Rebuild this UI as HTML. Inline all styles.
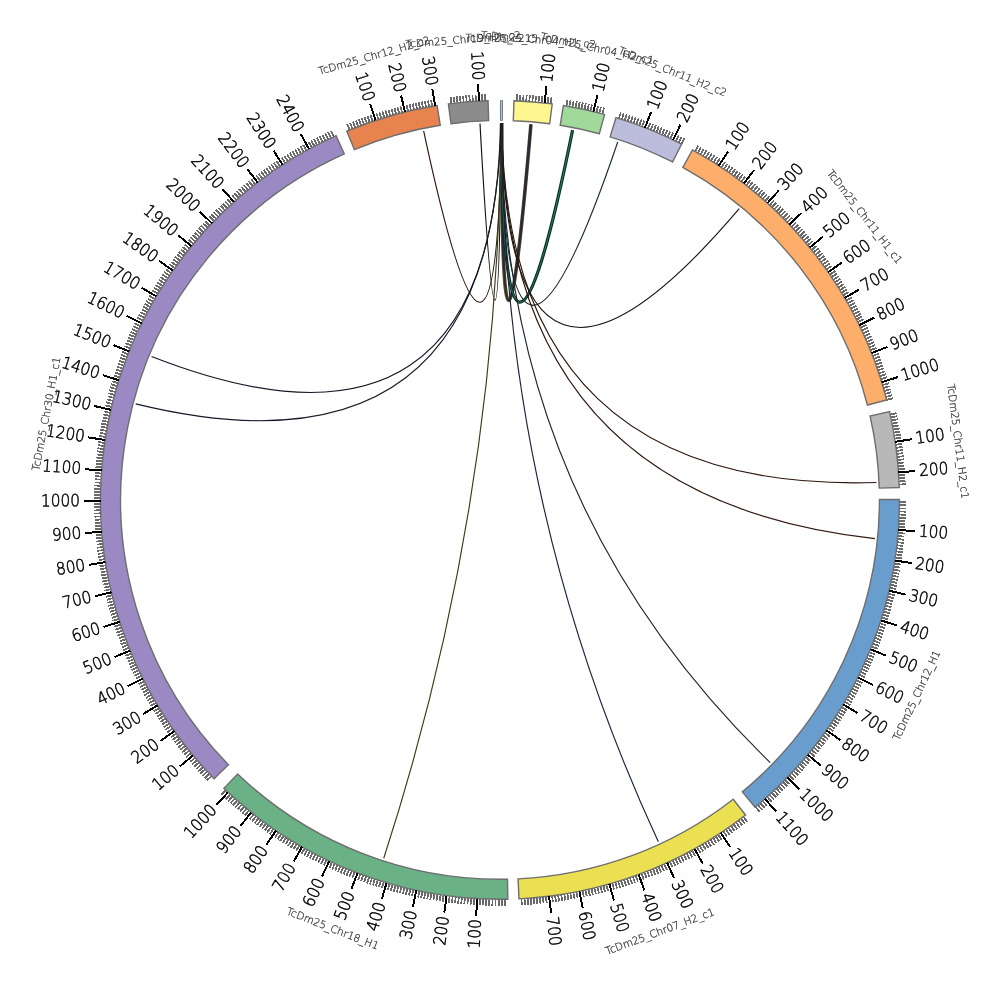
<!DOCTYPE html>
<html><head><meta charset="utf-8"><title>Circos plot</title>
<style>html,body{margin:0;padding:0;background:#fff;}svg{display:block;}.t{will-change:transform;}text{font-family:"DejaVu Sans","Liberation Sans",sans-serif;}</style></head><body>
<svg class="t" width="1000" height="1000" viewBox="0 0 1000 1000">
<rect width="1000" height="1000" fill="#fff"/>
<g fill="none" stroke-linecap="butt">
<path d="M423.64,130.93 Q497.8,477.53 501.37,123.1" stroke="#2e1409" stroke-width="1.15"/>
<path d="M480,123.63 Q499.47,477.31 500.84,123.1" stroke="#111111" stroke-width="1.15"/>
<path d="M530.92,124.37 Q501.03,477.33 501.76,123.1" stroke="#5a5418" stroke-width="3.6"/>
<path d="M530.92,124.37 Q501.03,477.33 501.76,123.1" stroke="#2d2642" stroke-width="2.4"/>
<path d="M572.59,130.15 Q502.27,477.5 501.5,123.1" stroke="#0e2a26" stroke-width="3.2"/>
<path d="M572.59,130.15 Q502.27,477.5 501.5,123.1" stroke="#1f7a4f" stroke-width="1.2"/>
<path d="M617.74,141.95 Q503.62,477.86 501.23,123.1" stroke="#16301f" stroke-width="1.15"/>
<path d="M739.22,208.73 Q506.06,483.2 501.37,123.1" stroke="#161616" stroke-width="1.15"/>
<path d="M876.45,482.48 Q505.72,493.99 501.69,123.1" stroke="#2a140c" stroke-width="1.15"/>
<path d="M874.86,538.57 Q502.87,497.36 501.89,123.1" stroke="#2e160c" stroke-width="1.15"/>
<path d="M770.18,762.59 Q500.05,499.9 501.5,123.1" stroke="#1f2530" stroke-width="1.15"/>
<path d="M658.34,841.84 Q500.05,499.9 502.02,123.11" stroke="#18243e" stroke-width="1.15"/>
<path d="M383.74,858.3 Q500.05,499.9 500.71,123.1" stroke="#3e3a12" stroke-width="1.15"/>
<path d="M151.58,356.56 Q493.96,490.8 500.58,123.1" stroke="#161a28" stroke-width="1.15"/>
<path d="M135.7,403.84 Q493.69,491.62 500.97,123.1" stroke="#161a28" stroke-width="1.15"/>
</g>
<g stroke="#6e6e6e" stroke-width="1.4">
<path d="M500.47,100.5 A399.4,399.4 0 0 1 502.56,100.51 L502.43,120.51 A379.4,379.4 0 0 0 500.45,120.5 Z" fill="#9ecae1" stroke-width="0.9"/>
<path d="M513.99,100.74 A399.4,399.4 0 0 1 552.25,103.93 L549.64,123.75 A379.4,379.4 0 0 0 513.29,120.73 Z" fill="#fff68f"/>
<path d="M563.36,105.55 A399.4,399.4 0 0 1 604.57,114.42 L599.33,133.72 A379.4,379.4 0 0 0 560.19,125.3 Z" fill="#a1d99b"/>
<path d="M615.96,117.69 A399.4,399.4 0 0 1 681.62,144.16 L672.53,161.97 A379.4,379.4 0 0 0 610.15,136.83 Z" fill="#bcbddc"/>
<path d="M692.46,149.9 A399.4,399.4 0 0 1 886.76,400.03 L867.4,405.03 A379.4,379.4 0 0 0 682.83,167.43 Z" fill="#fdae6b"/>
<path d="M889.56,411.55 A399.4,399.4 0 0 1 899.26,487.49 L879.27,488.12 A379.4,379.4 0 0 0 870.05,415.97 Z" fill="#b8b8b8"/>
<path d="M899.45,499.48 A399.4,399.4 0 0 1 755.07,807.29 L742.3,791.89 A379.4,379.4 0 0 0 879.45,499.5 Z" fill="#699dcd"/>
<path d="M745.51,814.97 A399.4,399.4 0 0 1 519,898.85 L518.05,878.87 A379.4,379.4 0 0 0 733.21,799.2 Z" fill="#ebdf52"/>
<path d="M507.86,899.22 A399.4,399.4 0 0 1 223.81,788.36 L237.64,773.92 A379.4,379.4 0 0 0 507.47,879.23 Z" fill="#6ab185"/>
<path d="M214.1,778.75 A399.4,399.4 0 0 1 336.07,135.71 L344.28,153.95 A379.4,379.4 0 0 0 228.42,764.78 Z" fill="#9b89c4"/>
<path d="M346.76,131.09 A399.4,399.4 0 0 1 437.09,105.49 L440.24,125.24 A379.4,379.4 0 0 0 354.43,149.56 Z" fill="#e6834f"/>
<path d="M448.4,103.85 A399.4,399.4 0 0 1 488.06,100.68 L488.66,120.67 A379.4,379.4 0 0 0 450.99,123.69 Z" fill="#8c8c8c"/>
</g>
<path d="M517.06,100.86L517.33,94.37M520.12,101L520.45,94.51M523.19,101.17L523.57,94.68M526.26,101.36L526.68,94.87M529.32,101.57L529.8,95.09M532.38,101.81L532.91,95.33M535.44,102.07L536.02,95.6M538.5,102.35L539.12,95.89M541.55,102.66L542.23,96.2M547.66,103.35L548.43,96.89M550.7,103.72L551.53,97.28M566.39,106.05L567.47,99.64M569.41,106.57L570.54,100.17M572.43,107.11L573.61,100.72M575.45,107.68L576.68,101.3M578.46,108.27L579.74,101.9M581.47,108.89L582.8,102.52M584.48,109.53L585.85,103.17M587.48,110.19L588.9,103.84M590.47,110.87L591.94,104.54M596.44,112.31L598.01,106M599.42,113.06L601.03,106.76M602.39,113.83L604.05,107.55M618.89,118.59L620.83,112.38M621.82,119.52L623.8,113.32M624.74,120.46L626.77,114.29M627.65,121.43L629.73,115.27M630.56,122.42L632.68,116.28M633.46,123.44L635.63,117.31M636.35,124.48L638.57,118.37M639.23,125.53L641.5,119.44M642.1,126.62L644.42,120.54M647.83,128.84L650.23,122.81M650.68,129.99L653.13,123.97M653.52,131.16L656.01,125.16M656.35,132.35L658.89,126.37M659.17,133.56L661.76,127.6M661.98,134.8L664.61,128.86M664.78,136.05L667.46,130.13M667.57,137.33L670.3,131.43M670.36,138.63L673.13,132.75M675.89,141.29L678.75,135.45M678.64,142.65L681.55,136.84M681.38,144.04L684.33,138.25M695.15,151.39L698.32,145.72M697.82,152.9L701.04,147.26M700.48,154.43L703.74,148.81M703.13,155.98L706.44,150.39M705.77,157.56L709.12,151.98M708.4,159.15L711.79,153.6M711.01,160.76L714.44,155.24M713.61,162.39L717.09,156.9M716.2,164.04L719.72,158.58M721.34,167.41L724.94,162M723.89,169.12L727.53,163.73M726.42,170.85L730.11,165.49M728.95,172.6L732.67,167.27M731.46,174.37L735.22,169.07M733.95,176.16L737.76,170.89M736.44,177.96L740.28,172.73M738.9,179.79L742.79,174.58M741.36,181.64L745.28,176.46M746.22,185.39L750.23,180.27M748.63,187.29L752.68,182.2M751.03,189.21L755.11,184.15M753.41,191.15L757.53,186.12M755.78,193.1L759.94,188.11M758.13,195.08L762.33,190.12M760.46,197.07L764.7,192.14M762.78,199.08L767.06,194.19M765.09,201.11L769.4,196.25M769.65,205.22L774.04,200.43M771.91,207.3L776.33,202.54M774.15,209.4L778.61,204.67M776.38,211.52L780.87,206.82M778.59,213.65L783.12,208.99M780.78,215.8L785.35,211.18M782.95,217.97L787.56,213.38M785.11,220.15L789.75,215.6M787.26,222.35L791.93,217.83M791.49,226.8L796.23,222.35M793.58,229.05L798.36,224.64M795.65,231.31L800.46,226.94M797.71,233.59L802.55,229.26M799.75,235.89L804.63,231.59M801.77,238.2L806.68,233.94M803.77,240.53L808.71,236.31M805.76,242.87L810.73,238.69M807.72,245.23L812.73,241.09M811.6,249.99L816.67,245.92M813.52,252.39L818.62,248.37M815.41,254.81L820.54,250.82M817.28,257.24L822.45,253.29M819.14,259.69L824.33,255.78M820.98,262.15L826.2,258.28M822.8,264.62L828.05,260.79M824.6,267.11L829.88,263.32M826.38,269.61L831.69,265.87M829.88,274.66L835.25,270.99M831.6,277.2L837,273.58M833.3,279.76L838.73,276.17M834.98,282.32L840.44,278.78M836.65,284.91L842.13,281.41M838.29,287.5L843.8,284.04M839.91,290.11L845.44,286.69M841.52,292.73L847.07,289.35M843.1,295.36L848.68,292.03M846.2,300.66L851.84,297.41M847.72,303.32L853.38,300.12M849.23,306L854.91,302.85M850.71,308.69L856.41,305.58M852.17,311.39L857.9,308.33M853.6,314.11L859.36,311.08M855.02,316.83L860.8,313.85M856.42,319.56L862.22,316.63M857.8,322.31L863.62,319.42M860.48,327.83L866.35,325.03M861.8,330.61L867.68,327.85M863.09,333.39L869,330.68M864.36,336.19L870.29,333.53M865.6,339L871.55,336.38M866.83,341.81L872.8,339.24M868.04,344.63L874.02,342.11M869.22,347.47L875.23,344.99M870.38,350.31L876.41,347.88M872.64,356.02L878.7,353.68M873.73,358.89L879.81,356.6M874.8,361.77L880.9,359.52M875.85,364.65L881.97,362.45M876.88,367.55L883.02,365.39M877.89,370.45L884.04,368.34M878.87,373.36L885.04,371.3M879.84,376.27L886.02,374.26M880.77,379.2L886.97,377.23M882.59,385.06L888.81,383.2M883.46,388.01L889.7,386.19M884.31,390.96L890.56,389.19M885.13,393.92L891.4,392.19M885.94,396.88L892.22,395.2M886.72,399.85L893.01,398.22M890.22,414.55L896.57,413.16M890.87,417.55L897.23,416.21M891.49,420.56L897.86,419.26M892.09,423.57L898.47,422.33M892.66,426.58L899.05,425.39M893.22,429.6L899.61,428.46M893.74,432.63L900.15,431.53M894.25,435.66L900.66,434.61M894.73,438.69L901.16,437.69M895.63,444.77L902.06,443.87M896.04,447.81L902.48,446.96M896.43,450.86L902.88,450.06M896.79,453.9L903.25,453.16M897.13,456.96L903.6,456.26M897.45,460.01L903.92,459.36M897.75,463.07L904.22,462.47M898.02,466.12L904.5,465.58M898.27,469.19L904.75,468.69M898.69,475.31L905.18,474.91M898.87,478.38L905.36,478.03M899.02,481.44L905.52,481.14M899.15,484.51L905.65,484.26M899.44,502.25L905.94,502.28M899.41,505.32L905.91,505.41M899.36,508.4L905.86,508.54M899.28,511.48L905.78,511.67M899.18,514.55L905.68,514.79M899.06,517.63L905.55,517.92M898.91,520.7L905.4,521.04M898.74,523.77L905.22,524.16M898.54,526.85L905.03,527.28M898.08,532.98L904.56,533.52M897.81,536.05L904.28,536.64M897.52,539.11L903.99,539.75M897.21,542.18L903.67,542.86M896.87,545.23L903.33,545.97M896.51,548.29L902.96,549.08M896.12,551.34L902.57,552.18M895.71,554.39L902.15,555.28M895.28,557.44L901.72,558.38M894.35,563.53L900.77,564.56M893.85,566.56L900.26,567.65M893.32,569.59L899.72,570.73M892.77,572.62L899.16,573.81M892.2,575.65L898.58,576.88M891.61,578.67L897.98,579.95M890.99,581.68L897.35,583.01M890.35,584.69L896.7,586.07M889.68,587.7L896.02,589.13M888.28,593.69L894.6,595.22M887.55,596.68L893.85,598.25M886.79,599.66L893.08,601.29M886.01,602.64L892.29,604.31M885.21,605.61L891.47,607.33M884.38,608.57L890.64,610.34M883.53,611.53L889.77,613.35M882.66,614.48L888.89,616.35M881.77,617.43L887.98,619.34M879.91,623.3L886.09,625.31M878.95,626.22L885.11,628.28M877.96,629.14L884.11,631.24M876.96,632.05L883.09,634.2M875.93,634.95L882.04,637.14M874.87,637.84L880.97,640.08M873.8,640.72L879.88,643.01M872.7,643.6L878.77,645.94M871.59,646.47L877.63,648.85M869.28,652.17L875.29,654.65M868.1,655.01L874.09,657.54M866.89,657.85L872.86,660.42M865.66,660.67L871.61,663.28M864.42,663.48L870.34,666.14M863.14,666.28L869.05,668.99M861.85,669.08L867.74,671.83M860.54,671.86L866.4,674.66M859.2,674.63L865.05,677.48M856.47,680.15L862.27,683.08M855.07,682.89L860.84,685.86M853.65,685.62L859.4,688.64M852.2,688.34L857.93,691.4M850.74,691.04L856.45,694.15M849.26,693.74L854.94,696.89M847.75,696.43L853.41,699.62M846.23,699.1L851.86,702.34M844.68,701.76L850.29,705.05M841.53,707.05L847.09,710.42M839.93,709.67L845.46,713.09M838.3,712.29L843.8,715.74M836.65,714.89L842.13,718.38M834.99,717.47L840.44,721.01M833.3,720.05L838.72,723.63M831.59,722.61L836.99,726.23M829.87,725.16L835.24,728.82M828.12,727.69L833.46,731.4M824.57,732.72L829.85,736.51M822.77,735.21L828.02,739.04M820.95,737.69L826.17,741.56M819.1,740.16L824.3,744.07M817.24,742.61L822.41,746.56M815.36,745.05L820.5,749.04M813.47,747.47L818.57,751.5M811.55,749.88L816.62,753.95M809.61,752.27L814.65,756.38M805.69,757.01L810.66,761.2M803.7,759.36L808.64,763.58M801.69,761.69L806.6,765.95M799.66,764.01L804.54,768.31M797.62,766.31L802.46,770.64M795.56,768.59L800.37,772.97M793.48,770.86L798.25,775.27M791.38,773.11L796.12,777.56M789.27,775.35L793.97,779.83M784.99,779.78L789.63,784.33M782.82,781.96L787.43,786.55M780.64,784.13L785.21,788.76M778.44,786.29L782.97,790.95M776.23,788.42L780.72,793.12M774,790.54L778.45,795.27M771.75,792.65L776.17,797.41M769.48,794.73L773.87,799.53M767.2,796.8L771.55,801.63M762.6,800.88L766.87,805.78M760.27,802.89L764.51,807.83M757.93,804.89L762.13,809.85M755.57,806.87L759.73,811.86M743.35,816.65L747.3,821.8M740.9,818.51L744.82,823.7M738.43,820.36L742.31,825.58M735.95,822.19L739.79,827.43M733.46,824L737.26,829.27M730.96,825.79L734.71,831.09M728.44,827.56L732.15,832.89M725.9,829.31L729.58,834.67M723.36,831.04L726.99,836.43M718.22,834.45L721.77,839.89M715.64,836.12L719.15,841.59M713.04,837.77L716.5,843.27M710.43,839.4L713.85,844.93M707.8,841.02L711.18,846.57M705.17,842.61L708.5,848.18M702.52,844.18L705.81,849.78M699.86,845.73L703.11,851.36M697.18,847.26L700.39,852.91M691.8,850.26L694.92,855.96M689.1,851.73L692.17,857.45M686.38,853.17L689.41,858.92M683.65,854.6L686.64,860.37M680.91,856.01L683.85,861.8M678.16,857.39L681.06,863.21M675.39,858.75L678.25,864.59M672.62,860.09L675.43,865.96M669.84,861.41L672.6,867.3M664.24,863.99L666.92,869.91M661.43,865.24L664.06,871.19M658.61,866.48L661.19,872.44M655.78,867.69L658.31,873.67M652.94,868.88L655.43,874.88M650.09,870.05L652.53,876.07M647.23,871.19L649.63,877.24M644.36,872.32L646.71,878.38M641.49,873.42L643.79,879.5M635.71,875.55L637.92,881.67M632.81,876.59L634.97,882.72M629.9,877.6L632.01,883.75M626.99,878.59L629.05,884.76M624.06,879.56L626.08,885.74M621.13,880.5L623.1,886.7M618.19,881.43L620.11,887.64M615.25,882.33L617.12,888.55M612.29,883.2L614.12,889.44M606.37,884.89L608.1,891.15M603.4,885.7L605.08,891.98M600.42,886.48L602.05,892.77M597.44,887.25L599.02,893.55M594.45,887.98L595.98,894.3M591.45,888.7L592.94,895.03M588.45,889.39L589.89,895.73M585.44,890.06L586.83,896.41M582.43,890.71L583.77,897.07M576.4,891.94L577.64,898.32M573.37,892.51L574.57,898.9M570.34,893.07L571.49,899.46M567.31,893.6L568.4,900M564.27,894.1L565.32,900.52M561.23,894.59L562.23,901.01M558.18,895.05L559.13,901.48M555.14,895.48L556.03,901.92M552.08,895.9L552.93,902.34M545.97,896.65L546.72,903.11M542.91,896.99L543.61,903.46M539.85,897.31L540.5,903.78M536.78,897.61L537.38,904.08M533.71,897.88L534.26,904.36M530.64,898.13L531.14,904.61M527.57,898.35L528.02,904.84M524.5,898.55L524.9,905.04M521.42,898.73L521.77,905.22M504.79,899.27L504.86,905.77M501.72,899.3L501.74,905.8M498.65,899.3L498.62,905.8M495.57,899.27L495.5,905.77M492.5,899.23L492.38,905.73M489.43,899.16L489.26,905.66M486.37,899.07L486.14,905.56M483.3,898.95L483.02,905.44M480.23,898.81L479.91,905.3M474.1,898.46L473.68,904.94M471.04,898.24L470.56,904.73M467.97,898.01L467.45,904.49M464.91,897.75L464.34,904.23M461.86,897.47L461.23,903.94M458.8,897.16L458.13,903.63M455.75,896.84L455.03,903.3M452.7,896.48L451.93,902.94M449.65,896.11L448.83,902.56M443.56,895.29L442.64,901.72M440.53,894.84L439.56,901.27M437.49,894.37L436.47,900.79M434.46,893.88L433.39,900.29M431.43,893.36L430.32,899.77M428.41,892.82L427.24,899.22M425.39,892.26L424.18,898.65M422.38,891.67L421.11,898.05M419.37,891.07L418.05,897.43M413.36,889.78L411.95,896.12M410.37,889.1L408.91,895.44M407.38,888.4L405.87,894.72M404.39,887.68L402.84,893.99M401.42,886.93L399.81,893.23M398.44,886.16L396.79,892.45M395.48,885.37L393.77,891.64M392.52,884.55L390.77,890.81M389.56,883.71L387.76,889.96M383.67,881.97L381.78,888.19M380.74,881.06L378.8,887.27M377.81,880.13L375.82,886.32M374.89,879.18L372.86,885.36M371.98,878.21L369.9,884.37M369.08,877.21L366.94,883.35M366.18,876.2L364,882.32M363.29,875.16L361.06,881.26M360.41,874.09L358.14,880.18M354.67,871.9L352.31,877.96M351.82,870.77L349.4,876.81M348.97,869.62L346.51,875.64M346.13,868.45L343.63,874.45M343.3,867.26L340.75,873.23M340.48,866.04L337.89,872M337.67,864.8L335.03,870.74M334.87,863.54L332.18,869.46M332.08,862.26L329.35,868.16M326.53,859.64L323.71,865.49M323.77,858.29L320.9,864.13M321.02,856.93L318.11,862.74M318.28,855.54L315.32,861.33M315.55,854.13L312.55,859.9M312.83,852.7L309.79,858.44M310.13,851.25L307.03,856.97M307.43,849.78L304.3,855.48M304.75,848.29L301.57,853.96M299.41,845.25L296.15,850.87M296.76,843.69L293.45,849.29M294.13,842.12L290.77,847.69M291.5,840.53L288.11,846.07M288.89,838.91L285.45,844.43M286.29,837.28L282.81,842.77M283.7,835.63L280.18,841.09M281.13,833.95L277.56,839.39M278.56,832.26L274.96,837.67M273.48,828.82L269.79,834.17M270.96,827.07L267.23,832.39M268.45,825.29L264.68,830.59M265.95,823.5L262.14,828.77M263.47,821.69L259.62,826.93M261.01,819.87L257.12,825.07M258.55,818.02L254.62,823.2M256.12,816.15L252.15,821.3M253.69,814.27L249.68,819.38M248.89,810.44L244.8,815.5M246.51,808.5L242.38,813.53M244.14,806.54L239.98,811.54M241.79,804.57L237.59,809.53M239.46,802.57L235.22,807.5M237.14,800.56L232.86,805.45M234.83,798.53L230.52,803.39M232.55,796.48L228.19,801.31M230.27,794.42L225.88,799.21M225.78,790.24L221.31,794.96M211.44,775.99L206.74,780.48M209.33,773.77L204.6,778.22M207.24,771.52L202.47,775.95M205.16,769.27L200.36,773.65M203.1,767L198.27,771.34M201.06,764.71L196.19,769.02M199.03,762.4L194.13,766.68M197.02,760.08L192.09,764.32M195.03,757.75L190.07,761.95M191.11,753.03L186.08,757.15M189.18,750.65L184.12,754.74M187.26,748.26L182.17,752.3M185.36,745.85L180.24,749.85M183.48,743.43L178.33,747.39M181.62,740.99L176.44,744.91M179.78,738.54L174.57,742.42M177.96,736.07L172.71,739.91M176.15,733.59L170.88,737.39M172.6,728.59L167.27,732.31M170.85,726.07L165.5,729.75M169.13,723.53L163.74,727.17M167.42,720.98L162.01,724.58M165.73,718.42L160.29,721.98M164.06,715.85L158.6,719.36M162.42,713.26L156.92,716.73M160.79,710.66L155.27,714.09M159.18,708.05L153.63,711.44M156.02,702.79L150.42,706.09M154.47,700.14L148.85,703.4M152.95,697.48L147.3,700.7M151.44,694.81L145.77,697.98M149.95,692.13L144.25,695.26M148.49,689.43L142.77,692.52M147.04,686.73L141.3,689.77M145.62,684.01L139.85,687.01M144.21,681.29L138.42,684.24M141.47,675.8L135.63,678.66M140.13,673.04L134.27,675.86M138.81,670.27L132.93,673.04M137.51,667.49L131.61,670.22M136.24,664.7L130.32,667.39M134.98,661.9L129.04,664.54M133.75,659.1L127.79,661.69M132.54,656.28L126.56,658.82M131.35,653.45L125.35,655.95M129.03,647.77L122.99,650.18M127.91,644.92L121.85,647.28M126.8,642.06L120.73,644.37M125.72,639.19L119.63,641.45M124.67,636.31L118.56,638.53M123.63,633.42L117.5,635.59M122.61,630.52L116.47,632.65M121.62,627.62L115.46,629.7M120.65,624.71L114.48,626.74M118.78,618.87L112.58,620.81M117.88,615.94L111.66,617.83M117,613L110.76,614.84M116.14,610.06L109.89,611.85M115.31,607.11L109.05,608.85M114.49,604.15L108.22,605.84M113.71,601.18L107.42,602.83M112.94,598.21L106.64,599.81M112.2,595.24L105.88,596.79M110.78,589.27L104.44,590.72M110.1,586.28L103.76,587.68M109.45,583.28L103.09,584.64M108.82,580.28L102.45,581.59M108.22,577.27L101.84,578.53M107.63,574.26L101.25,575.47M107.07,571.25L100.68,572.41M106.54,568.23L100.13,569.34M106.02,565.2L99.61,566.26M105.07,559.14L98.64,560.11M104.62,556.11L98.19,557.02M104.2,553.07L97.76,553.93M103.81,550.03L97.36,550.84M103.43,546.98L96.98,547.75M103.08,543.94L96.62,544.65M102.76,540.89L96.29,541.55M102.46,537.83L95.98,538.45M102.18,534.78L95.7,535.35M101.69,528.66L95.2,529.13M101.48,525.6L94.99,526.02M101.29,522.54L94.8,522.91M101.13,519.48L94.64,519.8M100.99,516.42L94.5,516.68M100.88,513.35L94.38,513.57M100.79,510.29L94.29,510.45M100.72,507.22L94.22,507.34M100.67,504.15L94.17,504.22M100.65,498.02L94.15,497.99M100.68,494.95L94.18,494.87M100.73,491.88L94.23,491.75M100.8,488.82L94.31,488.64M100.9,485.75L94.4,485.52M101.02,482.69L94.53,482.41M101.17,479.62L94.67,479.29M101.33,476.56L94.84,476.18M101.52,473.5L95.04,473.07M101.98,467.38L95.5,466.85M102.24,464.33L95.76,463.75M102.52,461.27L96.05,460.64M102.83,458.22L96.37,457.54M103.16,455.17L96.7,454.44M103.52,452.12L97.06,451.35M103.9,449.08L97.45,448.25M104.3,446.04L97.86,445.16M104.72,443L98.29,442.08M105.64,436.94L99.23,435.91M106.14,433.91L99.73,432.84M106.66,430.89L100.26,429.77M107.2,427.87L100.81,426.7M107.76,424.85L101.38,423.63M108.35,421.84L101.98,420.57M108.96,418.84L102.6,417.52M109.6,415.84L103.24,414.47M110.25,412.84L103.91,411.42M111.64,406.87L105.32,405.35M112.36,403.89L106.05,402.32M113.11,400.91L106.81,399.3M113.88,397.94L107.6,396.28M114.68,394.98L108.41,393.27M115.49,392.02L109.24,390.27M116.33,389.07L110.09,387.27M117.2,386.13L110.97,384.28M118.08,383.19L111.87,381.29M119.92,377.34L113.73,375.35M120.87,374.43L114.7,372.38M121.85,371.52L115.69,369.43M122.84,368.62L116.7,366.48M123.86,365.72L117.74,363.54M124.9,362.84L118.8,360.61M125.97,359.96L119.88,357.68M127.05,357.09L120.98,354.77M128.16,354.23L122.11,351.86M130.44,348.54L124.43,346.08M131.62,345.7L125.62,343.2M132.81,342.88L126.83,340.32M134.03,340.06L128.07,337.46M135.27,337.26L129.33,334.61M136.52,334.46L130.61,331.77M137.81,331.68L131.91,328.94M139.11,328.9L133.23,326.12M140.43,326.13L134.58,323.3M143.14,320.63L137.34,317.71M144.53,317.89L138.74,314.93M145.94,315.17L140.18,312.16M147.37,312.45L141.63,309.4M148.82,309.75L143.1,306.66M150.29,307.06L144.6,303.92M151.78,304.38L146.11,301.2M153.29,301.71L147.65,298.49M154.82,299.05L149.21,295.79M157.95,293.78L152.38,290.42M159.54,291.15L154,287.76M161.16,288.55L155.64,285.11M162.79,285.95L157.3,282.47M164.44,283.37L158.98,279.84M166.11,280.8L160.68,277.23M167.81,278.24L162.4,274.63M169.52,275.69L164.14,272.04M171.25,273.16L165.9,269.47M174.77,268.14L169.48,264.37M176.56,265.65L171.3,261.83M178.37,263.17L173.13,259.32M180.2,260.71L174.99,256.81M182.04,258.26L176.87,254.32M183.91,255.82L178.76,251.85M185.79,253.4L180.68,249.39M187.69,250.99L182.61,246.94M189.61,248.6L184.56,244.51M193.51,243.87L188.52,239.7M195.49,241.52L190.53,237.31M197.48,239.19L192.55,234.94M199.49,236.87L194.6,232.59M201.52,234.57L196.66,230.25M203.56,232.29L198.74,227.93M205.63,230.02L200.84,225.63M207.71,227.76L202.95,223.34M209.81,225.53L205.08,221.06M214.06,221.1L209.4,216.57M216.21,218.91L211.59,214.34M218.37,216.74L213.79,212.13M220.55,214.59L216.01,209.95M222.75,212.45L218.24,207.77M224.97,210.33L220.49,205.62M227.2,208.23L222.76,203.48M229.45,206.14L225.05,201.36M231.71,204.07L227.35,199.26M236.29,199.98L232,195.1M238.6,197.97L234.34,193.05M240.93,195.97L236.71,191.02M243.27,193.99L239.09,189.01M245.62,192.02L241.48,187.01M248,190.08L243.89,185.04M250.38,188.15L246.32,183.08M252.78,186.24L248.76,181.14M255.2,184.35L251.22,179.22M260.07,180.63L256.17,175.44M262.53,178.8L258.67,173.57M265.01,176.98L261.18,171.73M267.49,175.19L263.71,169.9M269.99,173.41L266.25,168.1M272.51,171.65L268.8,166.31M275.04,169.92L271.37,164.55M277.58,168.2L273.96,162.8M280.13,166.5L276.55,161.07M285.28,163.16L281.78,157.68M287.87,161.52L284.42,156.02M290.47,159.9L287.06,154.37M293.09,158.3L289.72,152.74M295.72,156.72L292.39,151.14M298.36,155.17L295.08,149.56M301.01,153.63L297.78,147.99M303.68,152.11L300.48,146.45M306.36,150.61L303.2,144.93M311.74,147.68L308.68,141.94M314.45,146.24L311.43,140.49M317.18,144.83L314.2,139.05M319.91,143.43L316.98,137.63M322.65,142.06L319.76,136.24M325.4,140.71L322.56,134.86M328.17,139.38L325.37,133.51M330.94,138.07L328.19,132.18M333.72,136.78L331.02,130.87M349.6,129.92L347.15,123.9M352.44,128.78L350.04,122.74M355.3,127.65L352.95,121.59M358.17,126.55L355.86,120.47M361.04,125.47L358.78,119.38M363.93,124.41L361.71,118.3M366.82,123.38L364.65,117.25M369.71,122.36L367.59,116.22M372.62,121.37L370.55,115.21M378.46,119.46L376.48,113.27M381.38,118.54L379.45,112.33M384.32,117.63L382.44,111.41M387.26,116.76L385.43,110.52M390.21,115.9L388.42,109.65M393.17,115.07L391.43,108.8M396.13,114.26L394.44,107.98M399.1,113.47L397.45,107.18M402.07,112.7L400.48,106.4M408.04,111.24L406.54,104.92M411.03,110.55L409.58,104.21M414.02,109.87L412.62,103.53M417.02,109.22L415.67,102.87M420.03,108.6L418.73,102.23M423.04,107.99L421.79,101.62M426.06,107.41L424.85,101.03M429.08,106.86L427.92,100.46M432.1,106.32L430.99,99.92M451.45,103.47L450.66,97.02M454.5,103.11L453.76,96.65M457.55,102.77L456.86,96.3M460.6,102.45L459.96,95.98M463.66,102.16L463.07,95.69M466.72,101.89L466.18,95.42M469.78,101.65L469.29,95.17M472.84,101.43L472.4,94.94M475.91,101.23L475.51,94.74M482.04,100.91L481.75,94.41M485.11,100.78L484.86,94.28" stroke="#6a6a6a" stroke-width="1.8" fill="none" shape-rendering="crispEdges"/>
<path d="M544.61,102.99L546.5,86.1M593.46,111.58L597.43,95.05M644.97,127.72L651.14,111.88M673.13,139.95L680.49,124.63M718.78,165.72L728.09,151.49M743.8,183.5L754.17,170.03M767.38,203.16L778.76,190.53M789.38,224.57L801.7,212.85M809.67,247.6L822.85,236.86M828.14,272.13L842.1,262.43M844.66,298L859.33,289.41M859.15,325.07L874.44,317.62M871.52,353.16L887.33,346.92M881.69,382.13L897.94,377.11M895.19,441.73L912.01,439.25M898.49,472.25L915.45,471.07M898.32,529.92L915.27,531.19M894.83,560.49L911.63,563.06M888.99,590.7L905.55,594.56M880.85,620.37L897.06,625.5M870.45,649.32L886.21,655.68M857.84,677.39L873.07,684.95M843.12,704.41L857.72,713.11M826.36,730.21L840.25,740.02M807.66,754.65L820.75,765.49M787.14,777.57L799.36,789.39M764.91,798.85L776.18,811.57M720.8,832.75L730.19,846.92M694.5,848.77L702.78,863.62M667.05,862.71L674.16,878.15M638.6,874.5L644.5,890.44M609.34,884.06L613.99,900.41M579.42,891.33L582.8,908M549.03,896.29L551.11,913.16M477.16,898.64L476.19,915.62M446.6,895.71L444.33,912.56M416.36,890.43L412.8,907.06M386.61,882.85L381.79,899.15M357.54,873.01L351.47,888.89M329.3,860.96L322.03,876.33M302.07,846.78L293.65,861.54M276.02,830.55L266.48,844.62M251.28,812.37L240.69,825.66M228.02,792.34L216.44,804.78M193.06,755.4L180,766.27M174.37,731.09L160.5,740.93M157.59,705.43L143.01,714.17M142.83,678.55L127.63,686.15M130.18,650.62L114.44,657.03M119.71,621.8L103.52,626.98M111.47,592.26L94.94,596.19M105.53,562.17L88.74,564.82M101.92,531.72L84.97,533.08M100.65,501.09L83.65,501.14M101.74,470.44L84.78,469.19M105.17,439.97L88.36,437.42M110.93,409.85L94.37,406.02M118.99,380.26L102.77,375.17M129.29,351.38L113.51,345.06M141.78,323.37L126.53,315.86M156.38,296.41L141.75,287.75M173,270.64L159.08,260.88M191.55,246.23L178.42,235.43M211.92,223.31L199.66,211.53M233.99,202.02L222.67,189.34M257.63,182.48L247.31,168.97M282.7,164.82L273.45,150.56M309.04,149.13L300.91,134.2M375.54,120.41L370.24,104.25M405.05,111.96L401.01,95.45M435.13,105.81L432.36,89.04M478.97,101.06L478.08,84.08" stroke="#000" stroke-width="2" fill="none" shape-rendering="crispEdges"/>
<g font-size="16.8" fill="#000" font-weight="200" stroke="#000" stroke-width="0.5">
<text x="0" y="0" dy="5.12" text-anchor="start" transform="translate(546.9,82.52) rotate(-83.59) scale(0.916,1)">100</text>
<text x="0" y="0" dy="5.12" text-anchor="start" transform="translate(598.28,91.55) rotate(-76.47) scale(0.916,1)">100</text>
<text x="0" y="0" dy="5.12" text-anchor="start" transform="translate(652.44,108.52) rotate(-68.72) scale(0.916,1)">100</text>
<text x="0" y="0" dy="5.12" text-anchor="start" transform="translate(682.05,121.38) rotate(-64.32) scale(0.916,1)">200</text>
<text x="0" y="0" dy="5.12" text-anchor="start" transform="translate(730.06,148.48) rotate(-56.8) scale(0.916,1)">100</text>
<text x="0" y="0" dy="5.12" text-anchor="start" transform="translate(756.37,167.18) rotate(-52.39) scale(0.916,1)">200</text>
<text x="0" y="0" dy="5.12" text-anchor="start" transform="translate(781.17,187.85) rotate(-47.98) scale(0.916,1)">300</text>
<text x="0" y="0" dy="5.12" text-anchor="start" transform="translate(804.3,210.37) rotate(-43.58) scale(0.916,1)">400</text>
<text x="0" y="0" dy="5.12" text-anchor="start" transform="translate(825.64,234.59) rotate(-39.17) scale(0.916,1)">500</text>
<text x="0" y="0" dy="5.12" text-anchor="start" transform="translate(845.06,260.38) rotate(-34.77) scale(0.916,1)">600</text>
<text x="0" y="0" dy="5.12" text-anchor="start" transform="translate(862.44,287.59) rotate(-30.36) scale(0.916,1)">700</text>
<text x="0" y="0" dy="5.12" text-anchor="start" transform="translate(877.67,316.05) rotate(-25.96) scale(0.916,1)">800</text>
<text x="0" y="0" dy="5.12" text-anchor="start" transform="translate(890.68,345.59) rotate(-21.56) scale(0.916,1)">900</text>
<text x="0" y="0" dy="5.12" text-anchor="start" transform="translate(901.38,376.05) rotate(-17.15) scale(0.916,1)">1000</text>
<text x="0" y="0" dy="5.12" text-anchor="start" transform="translate(915.57,438.73) rotate(-8.38) scale(0.916,1)">100</text>
<text x="0" y="0" dy="5.12" text-anchor="start" transform="translate(919.04,470.82) rotate(-3.97) scale(0.916,1)">200</text>
<text x="0" y="0" dy="5.12" text-anchor="start" transform="translate(918.86,531.46) rotate(4.31) scale(0.916,1)">100</text>
<text x="0" y="0" dy="5.12" text-anchor="start" transform="translate(915.19,563.61) rotate(8.72) scale(0.916,1)">200</text>
<text x="0" y="0" dy="5.12" text-anchor="start" transform="translate(909.05,595.38) rotate(13.14) scale(0.916,1)">300</text>
<text x="0" y="0" dy="5.12" text-anchor="start" transform="translate(900.49,626.58) rotate(17.55) scale(0.916,1)">400</text>
<text x="0" y="0" dy="5.12" text-anchor="start" transform="translate(889.55,657.03) rotate(21.97) scale(0.916,1)">500</text>
<text x="0" y="0" dy="5.12" text-anchor="start" transform="translate(876.3,686.55) rotate(26.38) scale(0.916,1)">600</text>
<text x="0" y="0" dy="5.12" text-anchor="start" transform="translate(860.81,714.96) rotate(30.8) scale(0.916,1)">700</text>
<text x="0" y="0" dy="5.12" text-anchor="start" transform="translate(843.19,742.09) rotate(35.22) scale(0.916,1)">800</text>
<text x="0" y="0" dy="5.12" text-anchor="start" transform="translate(823.53,767.79) rotate(39.63) scale(0.916,1)">900</text>
<text x="0" y="0" dy="5.12" text-anchor="start" transform="translate(801.94,791.89) rotate(44.04) scale(0.916,1)">1000</text>
<text x="0" y="0" dy="5.12" text-anchor="start" transform="translate(778.57,814.27) rotate(48.46) scale(0.916,1)">1100</text>
<text x="0" y="0" dy="5.12" text-anchor="start" transform="translate(732.18,849.92) rotate(56.45) scale(0.916,1)">100</text>
<text x="0" y="0" dy="5.12" text-anchor="start" transform="translate(704.53,866.76) rotate(60.87) scale(0.916,1)">200</text>
<text x="0" y="0" dy="5.12" text-anchor="start" transform="translate(675.66,881.42) rotate(65.28) scale(0.916,1)">300</text>
<text x="0" y="0" dy="5.12" text-anchor="start" transform="translate(645.75,893.82) rotate(69.7) scale(0.916,1)">400</text>
<text x="0" y="0" dy="5.12" text-anchor="start" transform="translate(614.97,903.87) rotate(74.12) scale(0.916,1)">500</text>
<text x="0" y="0" dy="5.12" text-anchor="start" transform="translate(583.51,911.52) rotate(78.54) scale(0.916,1)">600</text>
<text x="0" y="0" dy="5.12" text-anchor="start" transform="translate(551.56,916.73) rotate(82.96) scale(0.916,1)">700</text>
<text x="0" y="0" dy="5.12" text-anchor="end" transform="translate(475.98,919.21) rotate(-86.72) scale(0.916,1)">100</text>
<text x="0" y="0" dy="5.12" text-anchor="end" transform="translate(443.85,916.12) rotate(-82.31) scale(0.916,1)">200</text>
<text x="0" y="0" dy="5.12" text-anchor="end" transform="translate(412.05,910.58) rotate(-77.91) scale(0.916,1)">300</text>
<text x="0" y="0" dy="5.12" text-anchor="end" transform="translate(380.76,902.6) rotate(-73.5) scale(0.916,1)">400</text>
<text x="0" y="0" dy="5.12" text-anchor="end" transform="translate(350.19,892.25) rotate(-69.09) scale(0.916,1)">500</text>
<text x="0" y="0" dy="5.12" text-anchor="end" transform="translate(320.49,879.58) rotate(-64.69) scale(0.916,1)">600</text>
<text x="0" y="0" dy="5.12" text-anchor="end" transform="translate(291.86,864.67) rotate(-60.28) scale(0.916,1)">700</text>
<text x="0" y="0" dy="5.12" text-anchor="end" transform="translate(264.46,847.6) rotate(-55.88) scale(0.916,1)">800</text>
<text x="0" y="0" dy="5.12" text-anchor="end" transform="translate(238.45,828.48) rotate(-51.48) scale(0.916,1)">900</text>
<text x="0" y="0" dy="5.12" text-anchor="end" transform="translate(213.99,807.42) rotate(-47.07) scale(0.916,1)">1000</text>
<text x="0" y="0" dy="5.12" text-anchor="end" transform="translate(177.23,768.58) rotate(-39.77) scale(0.916,1)">100</text>
<text x="0" y="0" dy="5.12" text-anchor="end" transform="translate(157.57,743.02) rotate(-35.37) scale(0.916,1)">200</text>
<text x="0" y="0" dy="5.12" text-anchor="end" transform="translate(139.93,716.03) rotate(-30.97) scale(0.916,1)">300</text>
<text x="0" y="0" dy="5.12" text-anchor="end" transform="translate(124.41,687.76) rotate(-26.57) scale(0.916,1)">400</text>
<text x="0" y="0" dy="5.12" text-anchor="end" transform="translate(111.1,658.39) rotate(-22.17) scale(0.916,1)">500</text>
<text x="0" y="0" dy="5.12" text-anchor="end" transform="translate(100.09,628.08) rotate(-17.77) scale(0.916,1)">600</text>
<text x="0" y="0" dy="5.12" text-anchor="end" transform="translate(91.43,597.02) rotate(-13.37) scale(0.916,1)">700</text>
<text x="0" y="0" dy="5.12" text-anchor="end" transform="translate(85.19,565.39) rotate(-8.97) scale(0.916,1)">800</text>
<text x="0" y="0" dy="5.12" text-anchor="end" transform="translate(81.39,533.36) rotate(-4.57) scale(0.916,1)">900</text>
<text x="0" y="0" dy="5.12" text-anchor="end" transform="translate(80.05,501.15) rotate(-0.17) scale(0.916,1)">1000</text>
<text x="0" y="0" dy="5.12" text-anchor="end" transform="translate(81.19,468.92) rotate(4.23) scale(0.916,1)">1100</text>
<text x="0" y="0" dy="5.12" text-anchor="end" transform="translate(84.81,436.88) rotate(8.63) scale(0.916,1)">1200</text>
<text x="0" y="0" dy="5.12" text-anchor="end" transform="translate(90.86,405.21) rotate(13.03) scale(0.916,1)">1300</text>
<text x="0" y="0" dy="5.12" text-anchor="end" transform="translate(99.33,374.09) rotate(17.43) scale(0.916,1)">1400</text>
<text x="0" y="0" dy="5.12" text-anchor="end" transform="translate(110.17,343.72) rotate(21.83) scale(0.916,1)">1500</text>
<text x="0" y="0" dy="5.12" text-anchor="end" transform="translate(123.3,314.27) rotate(26.23) scale(0.916,1)">1600</text>
<text x="0" y="0" dy="5.12" text-anchor="end" transform="translate(138.65,285.91) rotate(30.63) scale(0.916,1)">1700</text>
<text x="0" y="0" dy="5.12" text-anchor="end" transform="translate(156.13,258.82) rotate(35.03) scale(0.916,1)">1800</text>
<text x="0" y="0" dy="5.12" text-anchor="end" transform="translate(175.64,233.14) rotate(39.43) scale(0.916,1)">1900</text>
<text x="0" y="0" dy="5.12" text-anchor="end" transform="translate(197.06,209.04) rotate(43.83) scale(0.916,1)">2000</text>
<text x="0" y="0" dy="5.12" text-anchor="end" transform="translate(220.27,186.65) rotate(48.23) scale(0.916,1)">2100</text>
<text x="0" y="0" dy="5.12" text-anchor="end" transform="translate(245.13,166.11) rotate(52.63) scale(0.916,1)">2200</text>
<text x="0" y="0" dy="5.12" text-anchor="end" transform="translate(271.49,147.54) rotate(57.03) scale(0.916,1)">2300</text>
<text x="0" y="0" dy="5.12" text-anchor="end" transform="translate(299.19,131.04) rotate(61.43) scale(0.916,1)">2400</text>
<text x="0" y="0" dy="5.12" text-anchor="end" transform="translate(369.11,100.83) rotate(71.83) scale(0.916,1)">100</text>
<text x="0" y="0" dy="5.12" text-anchor="end" transform="translate(400.15,91.95) rotate(76.24) scale(0.916,1)">200</text>
<text x="0" y="0" dy="5.12" text-anchor="end" transform="translate(431.78,85.49) rotate(80.64) scale(0.916,1)">300</text>
<text x="0" y="0" dy="5.12" text-anchor="end" transform="translate(477.89,80.49) rotate(86.97) scale(0.916,1)">100</text>
</g>
<g font-size="10.42" fill="#3c3c3c" stroke="#3c3c3c" stroke-width="0.3" font-weight="200" text-anchor="middle">
<text x="0" y="0" dy="2.73" transform="translate(501.74,38.9) rotate(0.21)">TcDm25_c215</text>
<text x="0" y="0" dy="2.73" transform="translate(538.26,40.49) rotate(4.75)">TcDm25_Chr04_H1_c2</text>
<text x="0" y="0" dy="2.73" transform="translate(597.04,49.22) rotate(12.14)">TcDm25_Chr04_H2_c1</text>
<text x="0" y="0" dy="2.73" transform="translate(672.41,72.33) rotate(21.95)">TcDm25_Chr11_H2_c2</text>
<text x="0" y="0" dy="2.73" transform="translate(864.11,217.1) rotate(52.16)">TcDm25_Chr11_H1_c1</text>
<text x="0" y="0" dy="2.73" transform="translate(957.33,441.48) rotate(82.72)">TcDm25_Chr11_H2_c1</text>
<text x="0" y="0" dy="2.73" transform="translate(917.41,695.67) rotate(-64.87)">TcDm25_Chr12_H1</text>
<text x="0" y="0" dy="2.73" transform="translate(660.14,932.21) rotate(-20.32)">TcDm25_Chr07_H2_c1</text>
<text x="0" y="0" dy="2.73" transform="translate(332.44,929.35) rotate(21.32)">TcDm25_Chr18_H1</text>
<text x="0" y="0" dy="2.73" transform="translate(47.13,413.99) rotate(280.74)">TcDm25_Chr30_H1_c1</text>
<text x="0" y="0" dy="2.73" transform="translate(374.37,56.36) rotate(344.18)">TcDm25_Chr12_H2_c2</text>
<text x="0" y="0" dy="2.73" transform="translate(463.28,40.37) rotate(355.42)">TcDm25_Chr19_H1_c2</text>
</g>
</svg></body></html>
